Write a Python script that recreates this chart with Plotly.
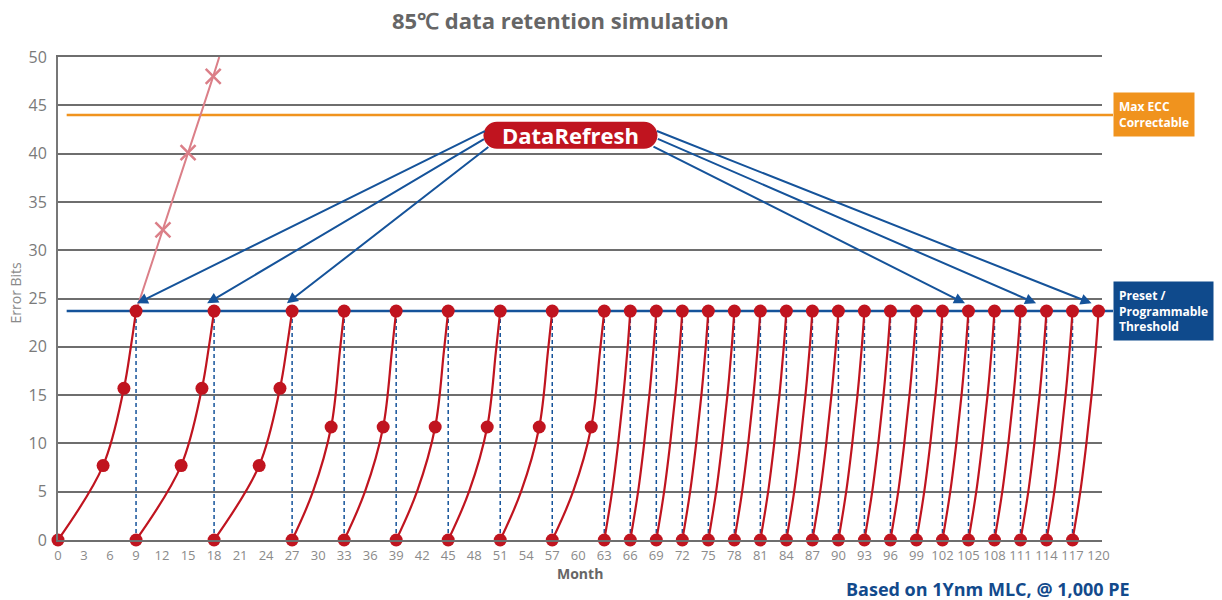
import plotly.graph_objects as go

# ---------------- data ----------------
title_text = "85℃ data retention simulation"
footnote_text = "Based on 1Ynm MLC, @ 1,000 PE"
x_title = "Month"
y_title = "Error Bits"
refresh_label = "DataRefresh"
ecc_label = "Max ECC<br>Correctable"
threshold_label = "Preset /<br>Programmable<br>Threshold"

x_tick_vals = [0, 3, 6, 9, 12, 15, 18, 21, 24, 27, 30, 33, 36, 39, 42, 45, 48, 51, 54, 57, 60,
               63, 66, 69, 72, 75, 78, 81, 84, 87, 90, 93, 96, 99, 102, 105, 108, 111, 114, 117, 120]
y_tick_vals = [0, 5, 10, 15, 20, 25, 30, 35, 40, 45, 50]

# months at which a refresh happens (cycle boundaries)
refresh_months = [0, 9, 18, 27, 33, 39, 45, 51, 57, 63, 66, 69, 72, 75, 78, 81, 84, 87, 90,
                  93, 96, 99, 102, 105, 108, 111, 114, 117, 120]
threshold_bits = 23.7
max_ecc_bits = 44
line_start_month = 1

# error-bit growth inside one cycle (months after refresh, error bits, dot shown)
profile_9m_offset = [0, 5.2, 7.6, 8.4, 9]
profile_9m_bits = [0, 7.7, 15.7, 20, 23.7]
profile_9m_dot = [1, 1, 1, 0, 1]
profile_6m_offset = [0, 2.4, 4.5, 5.5, 6]
profile_6m_bits = [0, 5, 11.7, 19.5, 23.7]
profile_6m_dot = [1, 0, 1, 0, 1]
profile_3m_offset = [0, 0.9, 1.6, 2.2, 2.7, 3]
profile_3m_bits = [0, 5, 10, 15, 20, 23.7]
profile_3m_dot = [1, 0, 0, 0, 0, 1]

# error growth without refresh
no_refresh_months = [9, 12.1, 15.0, 17.9, 18.6]
no_refresh_bits = [23.7, 32.1, 40.1, 48.0, 50]
no_refresh_mark = [0, 1, 1, 1, 0]

# DataRefresh arrows
arrow_head_months = [9.1, 17.2, 26.4, 104.6, 112.8, 119.2]
arrow_head_bits = [24.5, 24.5, 24.5, 24.5, 24.5, 24.5]
arrow_tail_months = [49.4, 49.3, 49.8, 68.5, 69.0, 68.9]
arrow_tail_bits = [42.4, 41.6, 40.8, 40.8, 41.6, 42.4]
refresh_label_month = 59.1
refresh_label_bits = 41.9

# ---------------- style ----------------
RED = "#c0141f"
PINK = "#db7f88"
BLUE = "#15539a"
ORANGE = "#f0931e"
GRID = "#6e6e6e"
X_MAX = 120.4
PLOT_W = 1044  # pixel width of the plotting area

profiles = {
    9: (profile_9m_offset, profile_9m_bits, profile_9m_dot),
    6: (profile_6m_offset, profile_6m_bits, profile_6m_dot),
    3: (profile_3m_offset, profile_3m_bits, profile_3m_dot),
}

line_x, line_y, dot_x, dot_y = [], [], [], []
dash_x, dash_y = [], []
for i in range(len(refresh_months) - 1):
    start, end = refresh_months[i], refresh_months[i + 1]
    offs, bits, dots = profiles[end - start]
    for o, b, d in zip(offs, bits, dots):
        line_x.append(start + o)
        line_y.append(b)
        if d:
            dot_x.append(start + o)
            dot_y.append(b)
    line_x.append(None)
    line_y.append(None)
for m in refresh_months[1:-1]:
    dash_x += [m, m, None]
    dash_y += [0, threshold_bits, None]

fig = go.Figure()

fig.add_trace(go.Scatter(x=dash_x, y=dash_y, mode="lines", hoverinfo="skip",
                         line=dict(color=BLUE, width=1.5, dash="4px,3px"), showlegend=False))
fig.add_trace(go.Scatter(x=line_x, y=line_y, mode="lines", line_shape="spline",
                         line=dict(color=RED, width=2.2), showlegend=False, hoverinfo="skip"))
fig.add_trace(go.Scatter(x=no_refresh_months, y=no_refresh_bits, mode="lines",
                         line=dict(color=PINK, width=2), showlegend=False, hoverinfo="skip"))
fig.add_trace(go.Scatter(
    x=[m for m, k in zip(no_refresh_months, no_refresh_mark) if k],
    y=[b for b, k in zip(no_refresh_bits, no_refresh_mark) if k],
    mode="markers", marker=dict(symbol="x-thin", size=15, line=dict(color=PINK, width=2.5)),
    showlegend=False, cliponaxis=False))
fig.add_trace(go.Scatter(x=dot_x, y=dot_y, mode="markers",
                         marker=dict(color=RED, size=13, line=dict(width=0)),
                         showlegend=False, cliponaxis=False))

# reference lines extending to the side labels
label_left = 1 + 11 / PLOT_W
fig.add_shape(type="line", xref="paper", yref="y", x0=line_start_month / X_MAX, x1=label_left,
              y0=max_ecc_bits, y1=max_ecc_bits, line=dict(color=ORANGE, width=2.5), layer="between")
fig.add_shape(type="line", xref="paper", yref="y", x0=line_start_month / X_MAX, x1=label_left,
              y0=threshold_bits, y1=threshold_bits, line=dict(color=BLUE, width=2.5), layer="between")

# DataRefresh pill
hw, hh, k = 87, 13.5, 7.46
a = hw - hh
pill = (f"M {-a},{-hh} L {a},{-hh} C {a+k},{-hh} {hw},{-k} {hw},0 C {hw},{k} {a+k},{hh} {a},{hh} "
        f"L {-a},{hh} C {-a-k},{hh} {-hw},{k} {-hw},0 C {-hw},{-k} {-a-k},{-hh} {-a},{-hh} Z")
fig.add_shape(type="path", xref="x", yref="y", xsizemode="pixel", ysizemode="pixel",
              xanchor=refresh_label_month, yanchor=refresh_label_bits, path=pill,
              fillcolor=RED, line=dict(width=0), layer="above")

annotations = []
for hx, hy, tx, ty in zip(arrow_head_months, arrow_head_bits, arrow_tail_months, arrow_tail_bits):
    annotations.append(dict(x=hx, y=hy, ax=tx, ay=ty, xref="x", yref="y", axref="x", ayref="y",
                            text="", showarrow=True, arrowhead=2, arrowsize=1.1, arrowwidth=2,
                            arrowcolor=BLUE, standoff=0, startstandoff=0))
annotations.append(dict(x=refresh_label_month, y=refresh_label_bits, xref="x", yref="y",
                        text=f"<b>{refresh_label}</b>", showarrow=False,
                        font=dict(family="Open Sans", size=22, color="white")))
annotations.append(dict(x=label_left, y=max_ecc_bits, xref="paper", yref="y", xanchor="left",
                        yanchor="middle", text=f"<b>{ecc_label}</b>", showarrow=False, align="left",
                        bgcolor=ORANGE, borderpad=5,
                        font=dict(family="Open Sans", size=12, color="white")))
annotations.append(dict(x=label_left, y=threshold_bits, xref="paper", yref="y", xanchor="left",
                        yanchor="middle", text=f"<b>{threshold_label}</b>", showarrow=False,
                        align="left", bgcolor="#0f4a8c", borderpad=5,
                        font=dict(family="Open Sans", size=12, color="white")))
annotations.append(dict(x=(560 - 58) / PLOT_W, y=1, xref="paper", yref="paper", xanchor="center",
                        yanchor="middle", yshift=37, text=f"<b>{title_text}</b>", showarrow=False,
                        font=dict(family="Open Sans", size=22, color="#666666")))
annotations.append(dict(x=0, y=0.5, xref="paper", yref="paper", xanchor="center", yanchor="middle",
                        xshift=-43, yshift=6, text=y_title, textangle=-90,
                        showarrow=False, font=dict(family="Open Sans", size=14, color="#8a8a8a")))
annotations.append(dict(x=(580 - 58) / PLOT_W, y=0, xref="paper", yref="paper", xanchor="center",
                        yanchor="middle", yshift=-33, text=f"<b>{x_title}</b>",
                        showarrow=False, font=dict(family="Open Sans", size=14, color="#666666")))
annotations.append(dict(x=(988 - 58) / PLOT_W, y=0, xref="paper", yref="paper", xanchor="center",
                        yanchor="middle", yshift=-49, text=f"<b>{footnote_text}</b>",
                        showarrow=False, font=dict(family="Open Sans", size=18, color="#124a8c")))

fig.update_layout(
    width=1222, height=600,
    margin=dict(l=58, r=120, t=57, b=60),
    paper_bgcolor="white", plot_bgcolor="white",
    showlegend=False,
    annotations=annotations,
    xaxis=dict(range=[0, X_MAX], tickvals=x_tick_vals, showgrid=False, zeroline=False,
               showline=True, mirror=True, linecolor=GRID, linewidth=2,
               ticks="outside", ticklen=2, tickcolor="rgba(0,0,0,0)",
               tickfont=dict(family="Open Sans", size=13, color="#8a8a8a")),
    yaxis=dict(range=[0, 50], tickvals=y_tick_vals, showgrid=True, gridcolor=GRID, gridwidth=2,
               zeroline=True, zerolinecolor=GRID, zerolinewidth=2,
               showline=True, linecolor="#777777", linewidth=2,
               ticks="outside", ticklen=6, tickcolor="rgba(0,0,0,0)",
               tickfont=dict(family="Open Sans", size=16, color="#7a7a7a")),
)

fig.write_html("out.html", config={"displayModeBar": False},
               post_script="document.body.style.margin='0';document.body.style.overflow='hidden';")
